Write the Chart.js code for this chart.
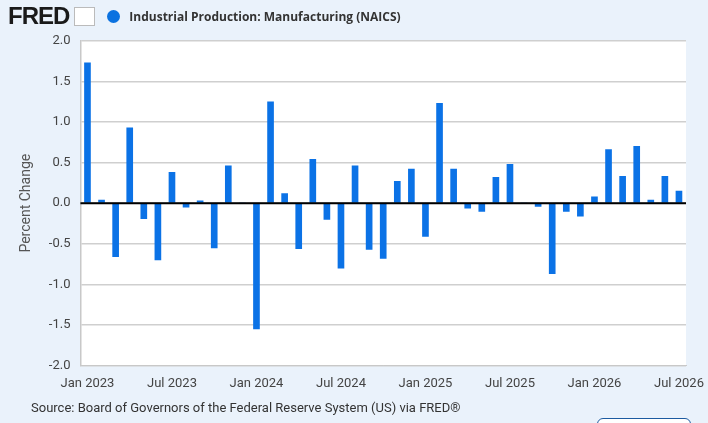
<!DOCTYPE html>
<html>
<head>
<meta charset="utf-8">
<script src="https://cdn.jsdelivr.net/npm/chart.js@4"></script>
<style>
  body { margin: 0; background: #eaf2fb; font-family: Roboto, "Open Sans", sans-serif; }
  #wrap { position: relative; width: 708px; height: 423px; overflow: hidden; }
  #head { position: absolute; left: 8px; top: 2px; height: 28px; display: flex; align-items: center; }
  #logo { font: 900 24px "Liberation Sans", Arial, sans-serif; color: #1a1a1a; letter-spacing: -1px; }
  #icon { width: 19px; height: 17px; margin-left: 5px; background: #fff; border: 1px solid #bbb; }
  #dot { width: 13px; height: 13px; border-radius: 50%; background: #0b72e0; margin-left: 12px; }
  #title { font: bold 12px "Open Sans", sans-serif; color: #333; margin-left: 9px; }
  #src { position: absolute; left: 31px; top: 400px; font-size: 13px; color: #333; }
  #box { position: absolute; left: 597px; top: 418px; width: 92px; height: 20px; border: 1px solid #1c5aa0; border-radius: 6px; background: #fff; }
  canvas { position: absolute; left: 0; top: 0; }
</style>
</head>
<body>
<div id="wrap">
  <canvas id="c" width="708" height="423"></canvas>
  <div id="head"><span id="logo">FRED</span><span id="icon"></span><span id="dot"></span><span id="title">Industrial Production: Manufacturing (NAICS)</span></div>
  <div id="src">Source: Board of Governors of the Federal Reserve System (US) via FRED®</div>
  <div id="box"></div>
</div>
<script>
const monthNames = ["Jan", "Feb", "Mar", "Apr", "May", "Jun", "Jul", "Aug", "Sep", "Oct", "Nov", "Dec"];
const years = [2023, 2024, 2025, 2026];
const values = [
  1.73, 0.04, -0.66, 0.93, -0.19, -0.70, 0.38, -0.05, 0.03, -0.55, 0.46, 0,
  -1.55, 1.25, 0.12, -0.56, 0.54, -0.20, -0.80, 0.46, -0.57, -0.68, 0.27, 0.42,
  -0.41, 1.23, 0.42, -0.06, -0.10, 0.32, 0.48, 0, -0.04, -0.87, -0.10, -0.16,
  0.08, 0.66, 0.33, 0.70, 0.04, 0.33, 0.15
];
const labels = [];
years.forEach((y) => monthNames.forEach((m) => labels.push(m + " " + y)));
labels.length = values.length;

const zeroLine = {
  id: "zeroLine",
  afterDatasetsDraw(chart) {
    const { ctx, chartArea, scales } = chart;
    const y = scales.y.getPixelForValue(0);
    ctx.save();
    ctx.strokeStyle = "#000";
    ctx.lineWidth = 2;
    ctx.beginPath();
    ctx.moveTo(chartArea.left, y);
    ctx.lineTo(chartArea.right, y);
    ctx.stroke();
    ctx.restore();
  },
};

const plotBg = {
  id: "plotBg",
  beforeDraw(chart) {
    const { ctx, chartArea: a } = chart;
    ctx.save();
    ctx.fillStyle = "#fff";
    ctx.fillRect(a.left, a.top, a.right - a.left, a.bottom - a.top);
    ctx.restore();
  },
};

new Chart(document.getElementById("c").getContext("2d"), {
  type: "bar",
  data: {
    labels,
    datasets: [{ data: values, backgroundColor: "#0b72e6", barThickness: 6 }],
  },
  plugins: [plotBg, zeroLine],
  options: {
    responsive: false,
    animation: false,
    layout: { padding: { top: 41, right: 22, bottom: 28, left: 14 } },
    plugins: { legend: { display: false }, tooltip: { enabled: false } },
    scales: {
      x: {
        offset: true,
        grid: { display: false, drawTicks: true },
        border: { color: "#c8c8c8" },
        ticks: {
          autoSkip: false,
          maxRotation: 0,
          color: "#444",
          font: { family: "Roboto", size: 13 },
          callback: (v, i) => (i % 6 === 0 ? labels[i] : ""),
        },
      },
      y: {
        min: -2,
        max: 2,
        grid: { color: "#cfcfcf", lineWidth: 1.5, drawTicks: false },
        border: { color: "#c8c8c8", width: 1.5 },
        title: { display: true, text: "Percent Change", color: "#555", font: { family: "Roboto", size: 14 } },
        ticks: {
          stepSize: 0.5,
          padding: 10,
          color: "#444",
          font: { family: "Roboto", size: 13 },
          callback: (v) => v.toFixed(1),
        },
      },
    },
  },
});
</script>
</body>
</html>
